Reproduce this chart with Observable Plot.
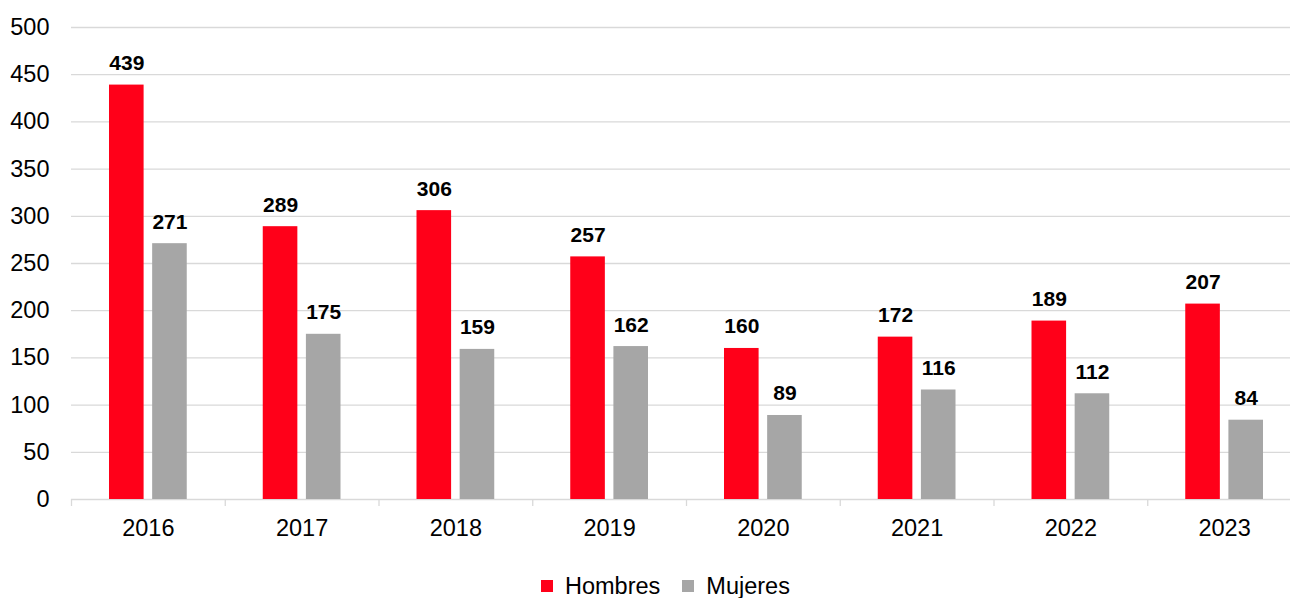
<!DOCTYPE html>
<html>
<head>
<meta charset="utf-8">
<script src="https://cdn.jsdelivr.net/npm/d3@7"></script>
<script src="https://cdn.jsdelivr.net/npm/@observablehq/plot@0.6"></script>
<style>
  html, body { margin: 0; padding: 0; background: #fff; overflow: hidden; }
  #chart { position: relative; width: 1290px; height: 598px; font-family: "Liberation Sans", Arial, sans-serif; }
  .legend { position: absolute; left: 541px; top: 572px; display: flex; align-items: center; font-size: 23.5px; line-height: 28px; color: #000; }
  .legend .sw { width: 12px; height: 12px; display: inline-block; margin-right: 12px; }
  .legend .item { display: flex; align-items: center; margin-right: 22px; }
</style>
</head>
<body>
<div id="chart"></div>
<script>
const years = ["2016", "2017", "2018", "2019", "2020", "2021", "2022", "2023"];
const hombres = [439, 289, 306, 257, 160, 172, 189, 207];
const mujeres = [271, 175, 159, 162, 89, 116, 112, 84];
const seriesNames = ["Hombres", "Mujeres"];
const seriesColors = ["#FF0019", "#A6A6A6"];
const yTicks = [0, 50, 100, 150, 200, 250, 300, 350, 400, 450, 500];

const rowsH = years.map((y, i) => ({year: y, value: hombres[i]}));
const rowsM = years.map((y, i) => ({year: y, value: mujeres[i]}));

const x0 = 71, x1 = 1301;
const bw = (x1 - x0) / years.length;
const barW = 34.6;
const padOuter = 38;
const redLeft = padOuter, redRight = bw - padOuter - barW;
const grayRight = padOuter, grayLeft = bw - padOuter - barW;
const redDx = redLeft + barW / 2 - bw / 2;
const grayDx = grayLeft + barW / 2 - bw / 2;

const chart = Plot.plot({
  width: 1290,
  height: 560,
  marginTop: 27,
  marginBottom: 61,
  marginLeft: 71,
  marginRight: 0,
  style: {fontFamily: '"Liberation Sans", Arial, sans-serif', background: "#fff", overflow: "visible"},
  x: {type: "band", domain: years, range: [x0, x1], padding: 0, round: false, axis: null},
  y: {type: "linear", domain: [0, 500], axis: null},
  marks: [
    Plot.ruleY(yTicks, {y: d => d, stroke: "#d9d9d9", strokeWidth: 1.3}),
    Plot.ruleX(years, {x: d => d, dx: -bw / 2, y1: () => 0, y2: () => 0, insetTop: 0, insetBottom: -7, stroke: "#d9d9d9", strokeWidth: 1.3}),
    Plot.barY(rowsH, {x: "year", y: "value", fill: seriesColors[0], insetLeft: redLeft, insetRight: redRight}),
    Plot.barY(rowsM, {x: "year", y: "value", fill: seriesColors[1], insetLeft: grayLeft, insetRight: grayRight}),
    Plot.text(rowsH, {x: "year", y: "value", text: d => String(d.value), dx: redDx, dy: -15, lineAnchor: "bottom", fontSize: 21, fontWeight: "bold", fill: "#000"}),
    Plot.text(rowsM, {x: "year", y: "value", text: d => String(d.value), dx: grayDx, dy: -15, lineAnchor: "bottom", fontSize: 21, fontWeight: "bold", fill: "#000"}),
    Plot.text(yTicks, {y: d => d, x: () => years[0], text: d => String(d), textAnchor: "end", dx: -bw / 2 - 22, fontSize: 23.5, fill: "#000"}),
    Plot.text(years, {x: d => d, y: () => 0, text: d => d, dy: 29, fontSize: 23.5, fill: "#000"})
  ]
});

const root = document.getElementById("chart");
root.appendChild(chart);

const legend = document.createElement("div");
legend.className = "legend";
seriesNames.forEach((name, i) => {
  const item = document.createElement("span");
  item.className = "item";
  const sw = document.createElement("span");
  sw.className = "sw";
  sw.style.background = seriesColors[i];
  item.appendChild(sw);
  item.appendChild(document.createTextNode(name));
  legend.appendChild(item);
});
root.appendChild(legend);
</script>
</body>
</html>
